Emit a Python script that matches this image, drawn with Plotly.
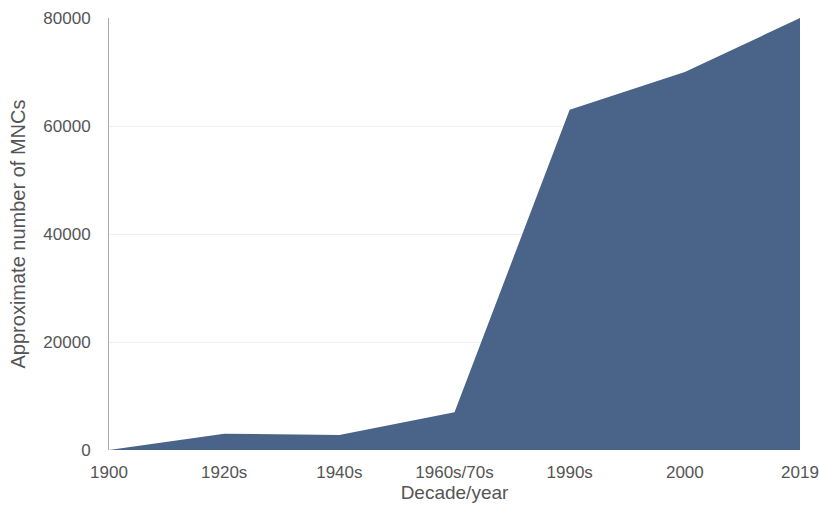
import plotly.graph_objects as go

categories = ["1900", "1920s", "1940s", "1960s/70s", "1990s", "2000", "2019"]
mnc_counts = [0, 3000, 2800, 7000, 63000, 70000, 80000]
y_ticks = [0, 20000, 40000, 60000, 80000]

fig = go.Figure()
fig.add_trace(go.Scatter(
    x=categories, y=mnc_counts, mode="lines", fill="tozeroy",
    line=dict(color="#4a6389", width=0), fillcolor="#4a6389",
    hoverinfo="x+y", showlegend=False,
))

font_family = "Liberation Sans, Arial, sans-serif"
txt = "#555555"
fig.update_layout(
    width=819, height=513,
    margin=dict(l=109, r=19, t=18, b=63),
    paper_bgcolor="white", plot_bgcolor="white",
    font=dict(family=font_family, size=18, color=txt),
    xaxis=dict(
        type="category", range=[0, 6], automargin=False,
        showgrid=False, zeroline=False, showline=False,
        ticks="outside", ticklen=7, tickcolor="rgba(0,0,0,0)",
        tickfont=dict(size=17, color=txt),
        title=dict(text="Decade/year", font=dict(size=19, color=txt), standoff=2),
    ),
    yaxis=dict(
        range=[0, 80000], tickvals=y_ticks, ticktext=[str(v) for v in y_ticks],
        automargin=False,
        showgrid=True, gridcolor="#efefef", gridwidth=1,
        zeroline=False, showline=True, linecolor="#aaaaaa", linewidth=1,
        ticks="outside", ticklen=14, tickcolor="rgba(0,0,0,0)",
        tickfont=dict(size=17, color=txt),
        title=dict(text="Approximate number of MNCs", font=dict(size=20, color=txt), standoff=12),
    ),
)

fig.write_html("out.html")
